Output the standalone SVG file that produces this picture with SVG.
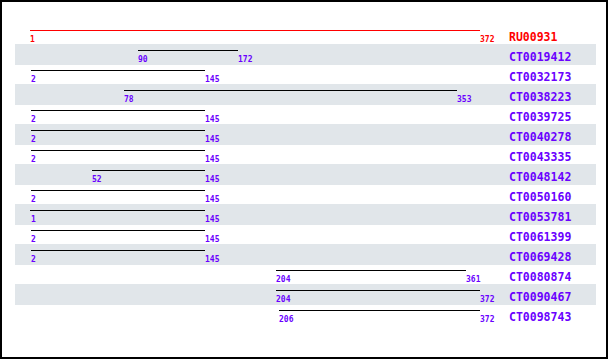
<svg xmlns="http://www.w3.org/2000/svg" width="610" height="360" viewBox="0 0 610 360">
<style>
.stripe{fill:#e1e6ea}
.hit{stroke:#000;stroke-width:1;shape-rendering:crispEdges}
.ref{stroke:#ff0000;stroke-width:1;shape-rendering:crispEdges}
.num{font-family:"DejaVu Sans Mono","Liberation Mono",monospace;font-size:8px;font-weight:bold;fill:#6a00ff}
.name{font-family:"DejaVu Sans Mono","Liberation Mono",monospace;font-size:11.5px;font-weight:bold;fill:#6a00ff}
.red{fill:#ff0000}
</style>
<rect x="0" y="0" width="610" height="360" fill="#fff"/>
<g id="stripes">
<rect class="stripe" x="15" y="44" width="581" height="21"/>
<rect class="stripe" x="15" y="84" width="581" height="21"/>
<rect class="stripe" x="15" y="124" width="581" height="21"/>
<rect class="stripe" x="15" y="164" width="581" height="21"/>
<rect class="stripe" x="15" y="204" width="581" height="21"/>
<rect class="stripe" x="15" y="244" width="581" height="21"/>
<rect class="stripe" x="15" y="284" width="581" height="21"/>
</g>
<g id="RU00931"><line class="ref" x1="30" y1="30.5" x2="480" y2="30.5"/><text class="num red" x="30" y="42">1</text><text class="num red" x="480" y="42">372</text><text class="name red" x="509" y="41">RU00931</text></g>
<g id="CT0019412"><line class="hit" x1="138" y1="50.5" x2="238" y2="50.5"/><text class="num" x="138" y="62">90</text><text class="num" x="238" y="62">172</text><text class="name" x="509" y="61">CT0019412</text></g>
<g id="CT0032173"><line class="hit" x1="31" y1="70.5" x2="205" y2="70.5"/><text class="num" x="31" y="82">2</text><text class="num" x="205" y="82">145</text><text class="name" x="509" y="81">CT0032173</text></g>
<g id="CT0038223"><line class="hit" x1="124" y1="90.5" x2="457" y2="90.5"/><text class="num" x="124" y="102">78</text><text class="num" x="457" y="102">353</text><text class="name" x="509" y="101">CT0038223</text></g>
<g id="CT0039725"><line class="hit" x1="31" y1="110.5" x2="205" y2="110.5"/><text class="num" x="31" y="122">2</text><text class="num" x="205" y="122">145</text><text class="name" x="509" y="121">CT0039725</text></g>
<g id="CT0040278"><line class="hit" x1="31" y1="130.5" x2="205" y2="130.5"/><text class="num" x="31" y="142">2</text><text class="num" x="205" y="142">145</text><text class="name" x="509" y="141">CT0040278</text></g>
<g id="CT0043335"><line class="hit" x1="31" y1="150.5" x2="205" y2="150.5"/><text class="num" x="31" y="162">2</text><text class="num" x="205" y="162">145</text><text class="name" x="509" y="161">CT0043335</text></g>
<g id="CT0048142"><line class="hit" x1="92" y1="170.5" x2="205" y2="170.5"/><text class="num" x="92" y="182">52</text><text class="num" x="205" y="182">145</text><text class="name" x="509" y="181">CT0048142</text></g>
<g id="CT0050160"><line class="hit" x1="31" y1="190.5" x2="205" y2="190.5"/><text class="num" x="31" y="202">2</text><text class="num" x="205" y="202">145</text><text class="name" x="509" y="201">CT0050160</text></g>
<g id="CT0053781"><line class="hit" x1="30" y1="210.5" x2="205" y2="210.5"/><text class="num" x="31" y="222">1</text><text class="num" x="205" y="222">145</text><text class="name" x="509" y="221">CT0053781</text></g>
<g id="CT0061399"><line class="hit" x1="31" y1="230.5" x2="205" y2="230.5"/><text class="num" x="31" y="242">2</text><text class="num" x="205" y="242">145</text><text class="name" x="509" y="241">CT0061399</text></g>
<g id="CT0069428"><line class="hit" x1="31" y1="250.5" x2="205" y2="250.5"/><text class="num" x="31" y="262">2</text><text class="num" x="205" y="262">145</text><text class="name" x="509" y="261">CT0069428</text></g>
<g id="CT0080874"><line class="hit" x1="276" y1="270.5" x2="466" y2="270.5"/><text class="num" x="276" y="282">204</text><text class="num" x="466" y="282">361</text><text class="name" x="509" y="281">CT0080874</text></g>
<g id="CT0090467"><line class="hit" x1="276" y1="290.5" x2="480" y2="290.5"/><text class="num" x="276" y="302">204</text><text class="num" x="480" y="302">372</text><text class="name" x="509" y="301">CT0090467</text></g>
<g id="CT0098743"><line class="hit" x1="279" y1="310.5" x2="480" y2="310.5"/><text class="num" x="279" y="322">206</text><text class="num" x="480" y="322">372</text><text class="name" x="509" y="321">CT0098743</text></g>
<rect x="1" y="1" width="606" height="357" fill="none" stroke="#000" stroke-width="2"/>
</svg>
